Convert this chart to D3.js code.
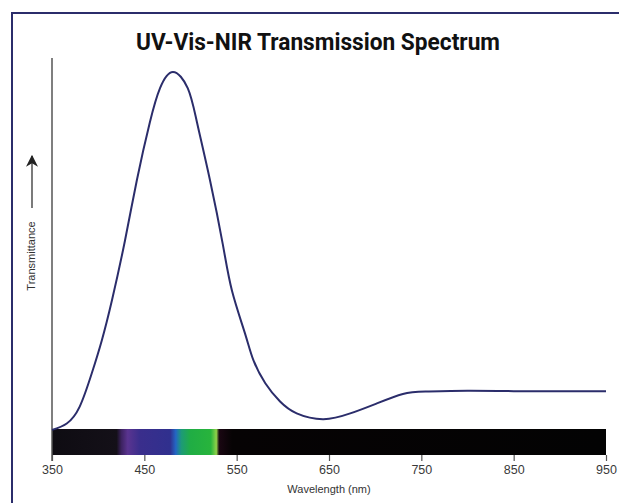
<!DOCTYPE html>
<html>
<head>
<meta charset="utf-8">
<script src="https://cdn.jsdelivr.net/npm/d3@7"></script>
<style>
  body { margin: 0; background: #fff; }
  svg { display: block; }
</style>
</head>
<body>
<svg id="chart" width="619" height="503"></svg>
<script>
// wavelengths (nm) and transmittance (arbitrary units, peak = 100)
const wavelengths = [350, 366, 380, 393, 404, 415, 429, 442, 456, 467, 481, 497, 507, 521, 535, 545, 559, 568, 581, 597, 615, 644, 673, 700, 730, 755, 800, 850, 900, 950]
const transmittance = [0.3, 2.1, 6.8, 16, 25.3, 36.5, 53, 70, 86, 95.5, 100, 95.5, 86, 70, 52, 39, 27.2, 19.8, 13.3, 8.2, 4.9, 3.3, 4.9, 7.5, 10.3, 11, 11.2, 11.1, 11.1, 11.1]

// colour band under the plot
const bandStops = [350, 420, 425, 432, 445, 478, 484, 490, 500, 522, 528, 531, 545, 950]
const bandColors = ['#0e0c12', '#141018', '#3c2260', '#5a3490', '#3a2e8c', '#30308e', '#2466c4', '#1d9a78', '#20ad44', '#28b43c', '#8fd24a', '#1a0712', '#060304', '#030303']

const tickLabels = [350, 450, 550, 650, 750, 850, 950]

const navy = '#2b2d6b'
const svg = d3.select('#chart')

const x = d3.scaleLinear().domain([350, 950]).range([52, 606])
const y = d3.scaleLinear().domain([0, 100]).range([431, 72])

// frame lines (top and left)
svg.append('line').attr('x1', 12).attr('x2', 619).attr('y1', 13).attr('y2', 13)
  .attr('stroke', navy).attr('stroke-width', 2)
svg.append('line').attr('x1', 12).attr('x2', 12).attr('y1', 12).attr('y2', 503)
  .attr('stroke', navy).attr('stroke-width', 2)

// title
svg.append('text')
  .attr('x', 318).attr('y', 50)
  .attr('text-anchor', 'middle')
  .style('font-family', '"Liberation Sans Narrow", "Roboto", sans-serif')
  .style('font-weight', 'bold')
  .style('font-size', '23px')
  .attr('textLength', 364)
  .attr('lengthAdjust', 'spacingAndGlyphs')
  .attr('fill', '#111')
  .text('UV-Vis-NIR Transmission Spectrum')

// spectrum band
const grad = svg.append('defs').append('linearGradient')
  .attr('id', 'band')
  .attr('gradientUnits', 'userSpaceOnUse')
  .attr('x1', x(350)).attr('x2', x(950)).attr('y1', 0).attr('y2', 0)
grad.selectAll('stop')
  .data(bandStops)
  .join('stop')
  .attr('offset', d => (d - 350) / 600)
  .attr('stop-color', (d, i) => bandColors[i])

svg.append('rect')
  .attr('x', x(350)).attr('width', x(950) - x(350))
  .attr('y', 429).attr('height', 26)
  .attr('fill', 'url(#band)')

// x axis ticks under the band
const xAxis = svg.append('g')
  .attr('transform', 'translate(0,455)')
  .call(d3.axisBottom(x).tickValues(tickLabels).tickSize(6).tickFormat(d3.format('d')))
xAxis.select('.domain').remove()
xAxis.selectAll('.tick line').attr('stroke', '#555').attr('stroke-width', 1.2)
xAxis.selectAll('.tick text')
  .attr('y', 10)
  .style('font-family', '"Liberation Sans", Arial, sans-serif')
  .style('font-size', '12.5px')
  .attr('fill', '#3a3a3a')

svg.append('text')
  .attr('x', x(650)).attr('y', 493)
  .attr('text-anchor', 'middle')
  .style('font-family', '"Liberation Sans", Arial, sans-serif')
  .style('font-size', '11px')
  .attr('fill', '#333')
  .text('Wavelength (nm)')

// y axis line
svg.append('line')
  .attr('x1', x(350)).attr('x2', x(350))
  .attr('y1', 58).attr('y2', 461)
  .attr('stroke', '#555').attr('stroke-width', 1.5)

// y label with arrow
svg.append('text')
  .attr('transform', 'translate(35,256) rotate(-90)')
  .attr('text-anchor', 'middle')
  .style('font-family', '"Liberation Sans", Arial, sans-serif')
  .style('font-size', '11px')
  .attr('fill', '#333')
  .text('Transmittance')
svg.append('defs').append('marker')
  .attr('id', 'arrow')
  .attr('viewBox', '0 0 10 10')
  .attr('refX', 9).attr('refY', 5)
  .attr('markerWidth', 12).attr('markerHeight', 12)
  .attr('markerUnits', 'userSpaceOnUse')
  .attr('orient', 'auto')
  .append('path').attr('d', 'M0,0 L10,5 L0,10 L3,5 Z').attr('fill', '#222')
svg.append('line')
  .attr('x1', 32).attr('x2', 32).attr('y1', 208).attr('y2', 156)
  .attr('stroke', '#222').attr('stroke-width', 1.2)
  .attr('marker-end', 'url(#arrow)')

// transmission curve
const line = d3.line()
  .x(d => x(d[0]))
  .y(d => y(d[1]))
  .curve(d3.curveNatural)

svg.append('path')
  .datum(d3.zip(wavelengths, transmittance))
  .attr('d', line)
  .attr('fill', 'none')
  .attr('stroke', navy)
  .attr('stroke-width', 2)
</script>
</body>
</html>
